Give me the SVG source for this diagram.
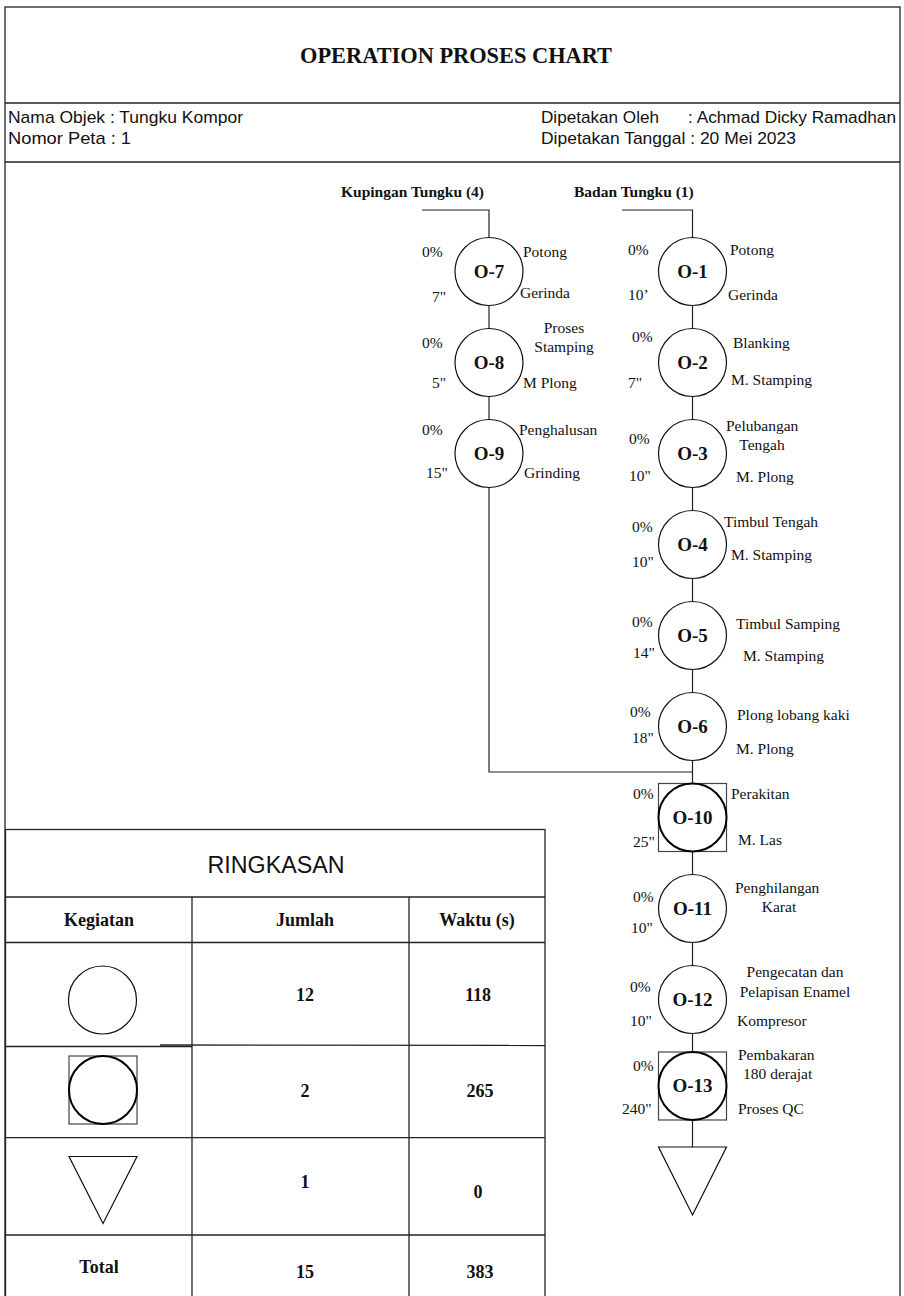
<svg xmlns="http://www.w3.org/2000/svg" width="904" height="1296" viewBox="0 0 904 1296">
<defs>
<style>
.frame{fill:none;stroke:#222;stroke-width:1.3}
.ln{fill:none;stroke:#222;stroke-width:1.2}
.op{fill:#fff;stroke:#111;stroke-width:1.2}
.opb{fill:#fff;stroke:#000;stroke-width:2}
.sq{fill:#fff;stroke:#444;stroke-width:1.2}
.lbl{font-family:"Liberation Serif","Times New Roman",serif;font-size:15.5px;fill:#111}
.mid{text-anchor:middle}
.id{font-family:"Liberation Serif","Times New Roman",serif;font-size:19px;font-weight:bold;fill:#111;text-anchor:middle}
.hd{font-family:"Liberation Serif","Times New Roman",serif;font-size:15.5px;font-weight:bold;fill:#111}
.info{font-family:"Liberation Sans",Arial,sans-serif;font-size:17px;fill:#111}
.tb{font-family:"Liberation Serif","Times New Roman",serif;font-size:18px;font-weight:bold;fill:#111;text-anchor:middle}
</style>
</defs>

<g id="header">
<rect class="frame" x="5" y="7" width="895" height="1295"/>
<line class="frame" x1="5" y1="103" x2="900" y2="103"/>
<line class="frame" x1="5" y1="162" x2="900" y2="162"/>
<text x="456" y="63" font-family="'Liberation Serif','Times New Roman',serif" font-size="24" font-weight="bold" text-anchor="middle" textLength="312" lengthAdjust="spacingAndGlyphs" fill="#111">OPERATION PROSES CHART</text>
<text class="info" x="8" y="123" textLength="235" lengthAdjust="spacingAndGlyphs">Nama Objek : Tungku Kompor</text>
<text class="info" x="8" y="144" textLength="123" lengthAdjust="spacingAndGlyphs">Nomor Peta  : 1</text>
<text class="info" x="541" y="123" textLength="118" lengthAdjust="spacingAndGlyphs">Dipetakan Oleh</text>
<text class="info" x="688" y="123" textLength="208" lengthAdjust="spacingAndGlyphs">: Achmad Dicky Ramadhan</text>
<text class="info" x="541" y="144" textLength="255" lengthAdjust="spacingAndGlyphs">Dipetakan Tanggal : 20 Mei 2023</text>
</g>

<g id="connectors">
<path class="ln" d="M422,210 H489 V237.5"/>
<line class="ln" x1="489" y1="305.5" x2="489" y2="328.5"/>
<line class="ln" x1="489" y1="396.5" x2="489" y2="419.5"/>
<path class="ln" d="M489,487.5 V772 H692.5"/>
<path class="ln" d="M622,210 H692.5 V237.5"/>
<line class="ln" x1="692.5" y1="305.5" x2="692.5" y2="328.5"/>
<line class="ln" x1="692.5" y1="396.5" x2="692.5" y2="419.5"/>
<line class="ln" x1="692.5" y1="487.5" x2="692.5" y2="510.5"/>
<line class="ln" x1="692.5" y1="578.5" x2="692.5" y2="601.5"/>
<line class="ln" x1="692.5" y1="669.5" x2="692.5" y2="692.5"/>
<line class="ln" x1="692.5" y1="760.5" x2="692.5" y2="783.5"/>
<line class="ln" x1="692.5" y1="851.5" x2="692.5" y2="874.5"/>
<line class="ln" x1="692.5" y1="942.5" x2="692.5" y2="965.5"/>
<line class="ln" x1="692.5" y1="1033.5" x2="692.5" y2="1052"/>
<line class="ln" x1="692.5" y1="1120" x2="692.5" y2="1147"/>
</g>

<g id="start-labels">
<text class="hd" x="341" y="197">Kupingan Tungku (4)</text>
<text class="hd" x="574" y="197">Badan Tungku (1)</text>
</g>

<g id="O-7">
<circle class="op" cx="489" cy="271.5" r="34"/>
<text class="id" x="489" y="277.5">O-7</text>
<text class="lbl" x="422" y="257">0%</text>
<text class="lbl" x="432" y="302">7"</text>
<text class="lbl" x="523" y="257">Potong</text>
<text class="lbl" x="520" y="298">Gerinda</text>
</g>
<g id="O-8">
<circle class="op" cx="489" cy="362.5" r="34"/>
<text class="id" x="489" y="368.5">O-8</text>
<text class="lbl" x="422" y="348">0%</text>
<text class="lbl" x="432" y="388">5"</text>
<text class="lbl mid" x="564" y="333">Proses</text>
<text class="lbl mid" x="564" y="352">Stamping</text>
<text class="lbl" x="523" y="388">M Plong</text>
</g>
<g id="O-9">
<circle class="op" cx="489" cy="453.5" r="34"/>
<text class="id" x="489" y="459.5">O-9</text>
<text class="lbl" x="422" y="435">0%</text>
<text class="lbl" x="426" y="478">15"</text>
<text class="lbl" x="519" y="435">Penghalusan</text>
<text class="lbl" x="524" y="478">Grinding</text>
</g>

<g id="O-1">
<circle class="op" cx="692.5" cy="271.5" r="34"/>
<text class="id" x="692.5" y="277.5">O-1</text>
<text class="lbl" x="628" y="255">0%</text>
<text class="lbl" x="628" y="300">10’</text>
<text class="lbl" x="730" y="255">Potong</text>
<text class="lbl" x="728" y="300">Gerinda</text>
</g>
<g id="O-2">
<circle class="op" cx="692.5" cy="362.5" r="34"/>
<text class="id" x="692.5" y="368.5">O-2</text>
<text class="lbl" x="632" y="342">0%</text>
<text class="lbl" x="628" y="388">7"</text>
<text class="lbl" x="733" y="348">Blanking</text>
<text class="lbl" x="731" y="385">M. Stamping</text>
</g>
<g id="O-3">
<circle class="op" cx="692.5" cy="453.5" r="34"/>
<text class="id" x="692.5" y="459.5">O-3</text>
<text class="lbl" x="629" y="444">0%</text>
<text class="lbl" x="629" y="481">10"</text>
<text class="lbl" x="726" y="431">Pelubangan</text>
<text class="lbl mid" x="762" y="450">Tengah</text>
<text class="lbl" x="736" y="482">M. Plong</text>
</g>
<g id="O-4">
<circle class="op" cx="692.5" cy="544.5" r="34"/>
<text class="id" x="692.5" y="550.5">O-4</text>
<text class="lbl" x="632" y="532">0%</text>
<text class="lbl" x="632" y="567">10"</text>
<text class="lbl" x="724" y="527">Timbul Tengah</text>
<text class="lbl" x="731" y="560">M. Stamping</text>
</g>
<g id="O-5">
<circle class="op" cx="692.5" cy="635.5" r="34"/>
<text class="id" x="692.5" y="641.5">O-5</text>
<text class="lbl" x="632" y="627">0%</text>
<text class="lbl" x="633" y="658">14"</text>
<text class="lbl" x="736" y="629">Timbul Samping</text>
<text class="lbl" x="743" y="661">M. Stamping</text>
</g>
<g id="O-6">
<circle class="op" cx="692.5" cy="726.5" r="34"/>
<text class="id" x="692.5" y="732.5">O-6</text>
<text class="lbl" x="630" y="717">0%</text>
<text class="lbl" x="632" y="743">18"</text>
<text class="lbl" x="737" y="720">Plong lobang kaki</text>
<text class="lbl" x="736" y="754">M. Plong</text>
</g>
<g id="O-10">
<rect class="sq" x="658.5" y="783.5" width="68" height="68"/>
<circle class="opb" cx="692.5" cy="817.5" r="34"/>
<text class="id" x="692.5" y="823.5">O-10</text>
<text class="lbl" x="633" y="799">0%</text>
<text class="lbl" x="633" y="847">25"</text>
<text class="lbl" x="731" y="799">Perakitan</text>
<text class="lbl" x="738" y="845">M. Las</text>
</g>
<g id="O-11">
<circle class="op" cx="692.5" cy="908.5" r="34"/>
<text class="id" x="692.5" y="914.5">O-11</text>
<text class="lbl" x="633" y="902">0%</text>
<text class="lbl" x="631" y="933">10"</text>
<text class="lbl" x="735" y="893">Penghilangan</text>
<text class="lbl mid" x="779" y="912">Karat</text>
</g>
<g id="O-12">
<circle class="op" cx="692.5" cy="999.5" r="34"/>
<text class="id" x="692.5" y="1005.5">O-12</text>
<text class="lbl" x="630" y="992">0%</text>
<text class="lbl" x="630" y="1026">10"</text>
<text class="lbl mid" x="795" y="977">Pengecatan dan</text>
<text class="lbl mid" x="795" y="997">Pelapisan Enamel</text>
<text class="lbl" x="737" y="1026">Kompresor</text>
</g>
<g id="O-13">
<rect class="sq" x="658.5" y="1052" width="68" height="68"/>
<circle class="opb" cx="692.5" cy="1086" r="34"/>
<text class="id" x="692.5" y="1092">O-13</text>
<text class="lbl" x="633" y="1071">0%</text>
<text class="lbl" x="622" y="1114">240"</text>
<text class="lbl" x="738" y="1060">Pembakaran</text>
<text class="lbl" x="743" y="1079">180 derajat</text>
<text class="lbl" x="738" y="1114">Proses QC</text>
</g>
<g id="storage">
<polygon class="op" points="658.5,1147 726.5,1147 692.5,1215"/>
</g>

<g id="ringkasan">
<rect class="frame" x="5.5" y="829.5" width="539.5" height="470"/>
<line class="frame" x1="5" y1="897" x2="545" y2="897"/>
<line class="frame" x1="5" y1="942.5" x2="545" y2="942.5"/>
<line class="frame" x1="5" y1="1046.5" x2="192" y2="1046.5"/>
<line class="frame" x1="160" y1="1045" x2="545" y2="1045.5"/>
<line class="frame" x1="5" y1="1137.7" x2="545" y2="1137.7"/>
<line class="frame" x1="5" y1="1235" x2="545" y2="1235"/>
<line class="frame" x1="192" y1="897" x2="192" y2="1296"/>
<line class="frame" x1="409" y1="897" x2="409" y2="1296"/>
<text x="276" y="873" font-family="'Liberation Sans',Arial,sans-serif" font-size="23" text-anchor="middle" textLength="137" lengthAdjust="spacingAndGlyphs" fill="#111">RINGKASAN</text>
<text class="tb" x="99" y="926">Kegiatan</text>
<text class="tb" x="305" y="926">Jumlah</text>
<text class="tb" x="477" y="926">Waktu (s)</text>
<circle class="op" cx="102.5" cy="1000" r="34"/>
<text class="tb" x="305" y="1001">12</text>
<text class="tb" x="478" y="1001">118</text>
<rect class="sq" x="69" y="1056" width="68" height="68"/>
<circle class="opb" cx="103" cy="1090" r="34"/>
<text class="tb" x="305" y="1097">2</text>
<text class="tb" x="480" y="1097">265</text>
<polygon class="op" points="69,1156.5 137,1156.5 103,1223.5"/>
<text class="tb" x="305" y="1188">1</text>
<text class="tb" x="478" y="1198">0</text>
<text class="tb" x="99" y="1273">Total</text>
<text class="tb" x="305" y="1278">15</text>
<text class="tb" x="480" y="1278">383</text>
</g>
</svg>
